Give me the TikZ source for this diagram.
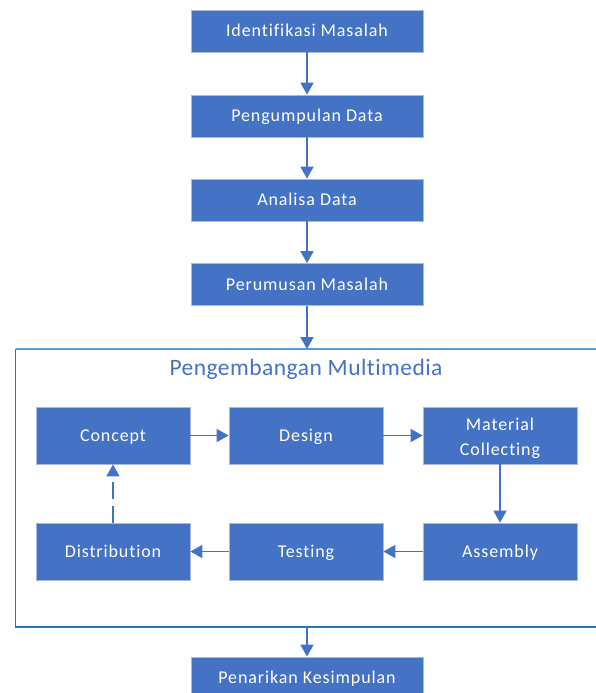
\documentclass[tikz,border=0pt]{standalone}
\usepackage{fontspec}
\setmainfont{Carlito}[Ligatures=NoCommon, LetterSpace=5]
\newfontfamily\titlefont{Carlito}[Ligatures=NoCommon, LetterSpace=2]
\usetikzlibrary{arrows.meta}
\definecolor{boxblue}{HTML}{4472C4}
\definecolor{boxedge}{HTML}{A9B9D9}
\definecolor{frametop}{HTML}{5B9BD5}
\definecolor{frameside}{HTML}{2E75B6}
\tikzset{
  x=1pt, y=-1pt,
  procbox/.style={draw=boxedge, line width=0.8pt, fill=boxblue, text=white, align=center, inner sep=0pt, font=\fontsize{18}{25}\selectfont},
  oneline/.style={text height=11.6pt, text depth=0pt},
  wide/.style={minimum width=232pt, minimum height=42pt, oneline},
  inner/.style={minimum width=154pt, minimum height=57pt},
  flow/.style={draw=boxblue, line width=1.8pt, -{Triangle[width=13pt,length=12pt]}, shorten >=0pt},
}
\begin{document}
\begin{tikzpicture}
\useasboundingbox (0,0) rectangle (596,693);
\node[procbox, wide] (id) at (307,31) {Identifikasi Masalah};
\node[procbox, wide] (pd) at (307,116) {Pengumpulan Data};
\node[procbox, wide] (ad) at (307,200) {Analisa Data};
\node[procbox, wide] (pm) at (307,284.5) {Perumusan Masalah};
% container
\coordinate (ctl) at (15.5,349);
\coordinate (ctr) at (600,349);
\coordinate (cbl) at (15.5,627);
\coordinate (cbr) at (600,627);
\coordinate (ctop) at (307,349);
\coordinate (cbot) at (307,627);
\draw[frametop, line width=1.4pt] (ctl) -- (ctr);
\draw[frameside, line width=1.4pt] (ctl) -- (cbl) -- (cbr);
\node[text=boxblue, font=\titlefont\fontsize{23.5}{28}\selectfont] (title) at (306,369) {Pengembangan Multimedia};
\node[procbox, inner, oneline] (co) at (113,435.5) {Concept};
\node[procbox, inner, oneline] (de) at (306,435.5) {Design};
\node[procbox, inner] (mc) at (500,435.5) {\raisebox{-3pt}[\height][\depth]{\parbox{150pt}{\centering Material\\Collecting}}};
\node[procbox, inner, oneline] (di) at (113,551.5) {Distribution};
\node[procbox, inner, oneline] (te) at (306,551.5) {Testing};
\node[procbox, inner, oneline] (as) at (500,551.5) {Assembly};
\node[procbox, wide] (pk) at (307,678) {Penarikan Kesimpulan};
\draw[flow] (id) -- (pd);
\draw[flow] (pd) -- (ad);
\draw[flow] (ad) -- (pm);
\draw[flow] (pm) -- (ctop);
\draw[flow] (co) -- (de);
\draw[flow] (de) -- (mc);
\draw[flow] (mc) -- (as);
\draw[flow] (as) -- (te);
\draw[flow] (te) -- (di);
\draw[flow, dash pattern=on 17pt off 7pt] (di) -- (co);
\draw[flow] (cbot) -- (pk);
\end{tikzpicture}
\end{document}
